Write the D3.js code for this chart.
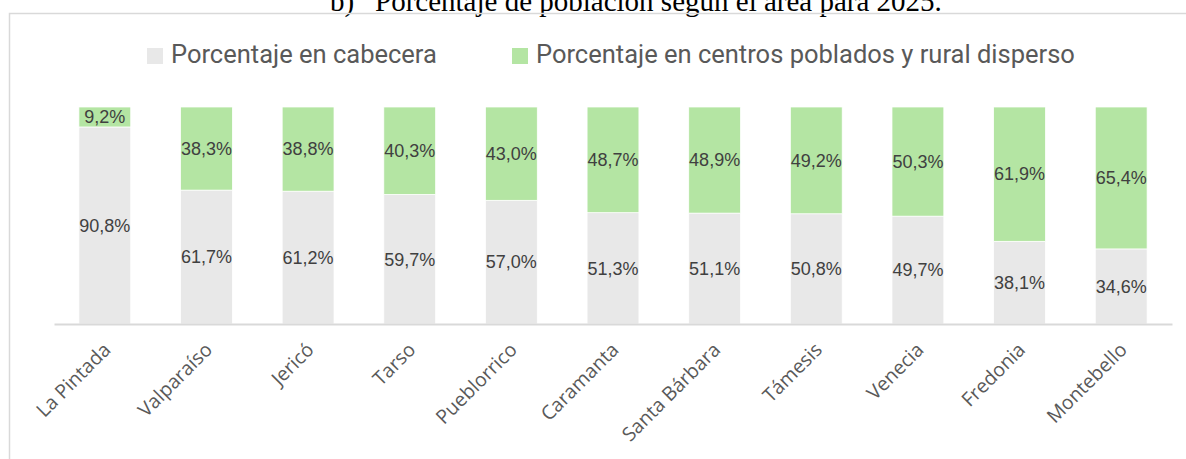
<!DOCTYPE html>
<html>
<head>
<meta charset="utf-8">
<script src="https://cdn.jsdelivr.net/npm/d3@7"></script>
<style>
  body { margin: 0; background: #fff; }
  svg { display: block; }
</style>
</head>
<body>
<svg id="chart"></svg>
<script>
const municipios = ["La Pintada", "Valparaíso", "Jericó", "Tarso", "Pueblorrico", "Caramanta",
    "Santa Bárbara", "Támesis", "Venecia", "Fredonia", "Montebello"];
const cabecera = [90.8, 61.7, 61.2, 59.7, 57.0, 51.3, 51.1, 50.8, 49.7, 38.1, 34.6];
const rural = [9.2, 38.3, 38.8, 40.3, 43.0, 48.7, 48.9, 49.2, 50.3, 61.9, 65.4];
const seriesNames = ["Porcentaje en cabecera", "Porcentaje en centros poblados y rural disperso"];
const colors = ["#e8e8e8", "#b4e5a3"];

const width = 1186;
const height = 459;

const svg = d3.select("#chart")
    .attr("width", width)
    .attr("height", height);

// titulo (cortado arriba en la imagen original)
svg.append("text")
    .attr("x", 330)
    .attr("y", 11)
    .attr("font-family", "Liberation Serif, Times New Roman, serif")
    .attr("font-size", 29)
    .attr("fill", "#000")
    .text("b)");
svg.append("text")
    .attr("x", 375)
    .attr("y", 11)
    .attr("font-family", "Liberation Serif, Times New Roman, serif")
    .attr("font-size", 29)
    .attr("fill", "#000")
    .text("Porcentaje de población según el área para 2025.");

// borde del area del grafico
svg.append("path")
    .attr("d", `M9.5,${height} V13.5 H${width}`)
    .attr("fill", "none")
    .attr("stroke", "#d9d9d9")
    .attr("stroke-width", 1.5);

// leyenda
const legendX = [147, 512];
const legend = svg.append("g")
    .selectAll("g")
    .data(seriesNames)
    .enter().append("g")
    .attr("transform", (d, i) => `translate(${legendX[i]},48)`);

legend.append("rect")
    .attr("width", 16)
    .attr("height", 16)
    .attr("fill", (d, i) => colors[i]);

legend.append("text")
    .attr("x", 24)
    .attr("y", 15)
    .attr("font-family", "Roboto, sans-serif")
    .attr("font-size", 25.5)
    .attr("fill", "#595959")
    .text(d => d);

// escalas
const x = d3.scaleBand()
    .domain(municipios)
    .range([54, 1172])
    .paddingInner(0.49)
    .paddingOuter(0.245);

const y = d3.scaleLinear()
    .domain([0, 100])
    .range([324, 107]);

const rows = municipios.map((m, i) => ({ municipio: m, cabecera: cabecera[i], rural: rural[i] }));
const stacked = d3.stack().keys(["cabecera", "rural"])(rows);

const layer = svg.append("g")
    .selectAll("g")
    .data(stacked)
    .enter().append("g")
    .attr("fill", (d, i) => colors[i]);

layer.selectAll("rect")
    .data(d => d)
    .enter().append("rect")
    .attr("x", d => x(d.data.municipio))
    .attr("y", d => y(d[1]))
    .attr("width", x.bandwidth())
    .attr("height", d => y(d[0]) - y(d[1]))
    .attr("stroke", "#fff")
    .attr("stroke-width", 0.75);

// etiquetas de datos
layer.selectAll("text")
    .data(d => d)
    .enter().append("text")
    .attr("x", d => x(d.data.municipio) + x.bandwidth() / 2)
    .attr("y", d => (y(d[0]) + y(d[1])) / 2)
    .attr("dy", "0.35em")
    .attr("text-anchor", "middle")
    .attr("font-family", "Liberation Sans, Arial, sans-serif")
    .attr("font-size", 18)
    .attr("fill", "#404040")
    .text(d => d3.format(".1f")(d[1] - d[0]).replace(".", ",") + "%");

// eje x
const xAxis = svg.append("g")
    .attr("transform", "translate(0,324)")
    .call(d3.axisBottom(x).tickSize(0).tickPadding(0));

xAxis.select(".domain")
    .attr("stroke", "#d9d9d9")
    .attr("stroke-width", 2);

xAxis.selectAll(".tick text")
    .attr("font-family", "Open Sans, sans-serif")
    .attr("font-size", 19.5)
    .attr("fill", "#595959")
    .attr("text-anchor", "end")
    .attr("dy", 0)
    .attr("y", 0)
    .attr("transform", "translate(7,27) rotate(-45)");
</script>
</body>
</html>
